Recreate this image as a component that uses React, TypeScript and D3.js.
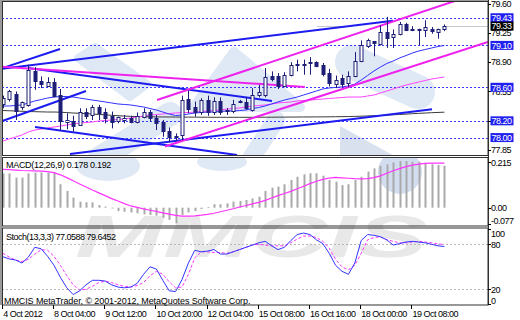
import React from 'react';
import * as d3 from 'd3';

// ---------- DATA ----------
const tickBars = [0, 8, 16, 24, 32, 40, 48, 56, 64];
const tickLabels = ['4 Oct 2012', '8 Oct 04:00', '9 Oct 12:00', '10 Oct 20:00', '12 Oct 04:00', '15 Oct 08:00', '16 Oct 16:00', '18 Oct 00:00', '19 Oct 08:00'];

const open = [78.40, 78.46, 78.52, 78.37, 78.39, 78.79, 78.68, 78.62, 78.66, 78.51,
  78.18, 78.20, 78.15, 78.30, 78.27, 78.37, 78.30, 78.26, 78.20, 78.21,
  78.23, 78.19, 78.25, 78.30, 78.23, 78.18, 78.08, 78.02, 78.03, 78.46,
  78.36, 78.31, 78.45, 78.30, 78.44, 78.32, 78.32, 78.44, 78.43, 78.33,
  78.51, 78.51, 78.73, 78.73, 78.61, 78.75, 78.88, 78.87, 78.89, 78.90,
  78.87, 78.77, 78.64, 78.71, 78.65, 78.73, 78.91, 79.09, 79.15, 79.12,
  79.26, 79.20, 79.24, 79.36, 79.28, 79.30, 79.28, 79.30, 79.26, 79.30];
const high = [78.50, 78.57, 78.55, 78.43, 78.87, 78.84, 78.73, 78.72, 78.71, 78.58,
  78.29, 78.26, 78.35, 78.35, 78.39, 78.39, 78.35, 78.31, 78.25, 78.27,
  78.26, 78.30, 78.35, 78.33, 78.27, 78.21, 78.12, 78.05, 78.50, 78.56,
  78.43, 78.47, 78.50, 78.48, 78.48, 78.35, 78.45, 78.45, 78.48, 78.59,
  78.63, 78.83, 78.79, 78.77, 78.78, 78.90, 78.93, 78.93, 78.96, 78.91,
  78.89, 78.82, 78.74, 78.75, 78.79, 79.02, 79.16, 79.18, 79.15, 79.34,
  79.44, 79.29, 79.38, 79.37, 79.33, 79.30, 79.40, 79.32, 79.30, 79.35];
const low = [78.35, 78.43, 78.21, 78.33, 78.37, 78.57, 78.59, 78.61, 78.48, 78.08,
  78.10, 78.07, 78.14, 78.22, 78.21, 78.21, 78.17, 78.11, 78.17, 78.17,
  78.17, 78.17, 78.23, 78.19, 78.09, 78.01, 77.95, 77.96, 77.97, 78.29,
  78.25, 78.27, 78.26, 78.27, 78.27, 78.27, 78.29, 78.41, 78.33, 78.31,
  78.48, 78.48, 78.67, 78.58, 78.60, 78.73, 78.79, 78.75, 78.75, 78.84,
  78.73, 78.61, 78.59, 78.60, 78.60, 78.72, 78.90, 79.07, 78.97, 79.10,
  79.07, 79.07, 79.22, 79.27, 79.27, 79.10, 79.20, 79.24, 79.18, 79.27];
const close = [78.47, 78.55, 78.32, 78.42, 78.81, 78.68, 78.64, 78.66, 78.50, 78.20,
  78.21, 78.14, 78.31, 78.26, 78.37, 78.29, 78.23, 78.19, 78.24, 78.23,
  78.19, 78.26, 78.31, 78.23, 78.17, 78.08, 78.01, 78.01, 78.45, 78.34,
  78.31, 78.45, 78.30, 78.44, 78.30, 78.33, 78.40, 78.43, 78.35, 78.51,
  78.54, 78.72, 78.70, 78.61, 78.75, 78.87, 78.87, 78.88, 78.90, 78.86,
  78.76, 78.65, 78.69, 78.64, 78.73, 78.91, 79.10, 79.16, 79.13, 79.26,
  79.19, 79.24, 79.36, 79.28, 79.29, 79.28, 79.32, 79.27, 79.30, 79.33];

const maFast = [78.377, 78.377, 78.383, 78.389, 78.413, 78.437, 78.454, 78.472, 78.484, 78.490,
  78.490, 78.484, 78.472, 78.460, 78.448, 78.437, 78.425, 78.413, 78.401, 78.395,
  78.389, 78.377, 78.365, 78.347, 78.329, 78.305, 78.281, 78.263, 78.269, 78.281,
  78.293, 78.299, 78.305, 78.305, 78.311, 78.317, 78.317, 78.323, 78.329, 78.347,
  78.359, 78.377, 78.401, 78.425, 78.448, 78.466, 78.484, 78.508, 78.532, 78.556,
  78.580, 78.592, 78.598, 78.604, 78.616, 78.639, 78.687, 78.741, 78.795, 78.842,
  78.884, 78.914, 78.950, 78.979, 79.009, 79.033, 79.051, 79.069, 79.087, 79.099];
const maSlow = [77.959, 77.983, 78.007, 78.031, 78.067, 78.090, 78.102, 78.114, 78.126, 78.138,
  78.150, 78.162, 78.174, 78.180, 78.186, 78.198, 78.204, 78.210, 78.216, 78.222,
  78.234, 78.246, 78.258, 78.269, 78.275, 78.281, 78.287, 78.293, 78.299, 78.299,
  78.305, 78.311, 78.317, 78.323, 78.329, 78.341, 78.347, 78.353, 78.365, 78.377,
  78.383, 78.389, 78.401, 78.413, 78.419, 78.425, 78.437, 78.443, 78.448, 78.454,
  78.460, 78.466, 78.472, 78.478, 78.484, 78.484, 78.484, 78.496, 78.508, 78.532,
  78.556, 78.580, 78.604, 78.627, 78.645, 78.663, 78.681, 78.699, 78.711, 78.723];
const maLong = [78.323, 78.320, 78.317, 78.314, 78.311, 78.309, 78.307, 78.305, 78.305, 78.303,
  78.298, 78.293, 78.290, 78.286, 78.281, 78.276, 78.271, 78.266, 78.261, 78.257,
  78.253, 78.251, 78.249, 78.248, 78.247, 78.246, 78.246, 78.245, 78.245, 78.244,
  78.244, 78.243, 78.243, 78.242, 78.242, 78.242, 78.242, 78.242, 78.242, 78.242,
  78.243, 78.243, 78.243, 78.244, 78.244, 78.245, 78.245, 78.246, 78.246, 78.247,
  78.247, 78.248, 78.249, 78.250, 78.251, 78.253, 78.255, 78.258, 78.261, 78.264,
  78.268, 78.272, 78.276, 78.280, 78.285, 78.289, 78.293, 78.297, 78.300, 78.303];

const macdHist = [0.160, 0.160, 0.140, 0.140, 0.160, 0.164, 0.164, 0.164, 0.164, 0.109,
  0.078, 0.047, 0.028, 0.025, 0.025, 0.012, 0.005, -0.003, -0.016, -0.019,
  -0.022, -0.026, -0.031, -0.034, -0.037, -0.047, -0.057, -0.073, -0.034, -0.022,
  -0.016, -0.006, 0.002, 0.016, 0.016, 0.020, 0.028, 0.031, 0.036, 0.043,
  0.051, 0.078, 0.093, 0.098, 0.109, 0.129, 0.144, 0.155, 0.160, 0.160,
  0.149, 0.129, 0.121, 0.105, 0.109, 0.129, 0.144, 0.168, 0.183, 0.195,
  0.202, 0.211, 0.217, 0.217, 0.214, 0.214, 0.206, 0.202, 0.199, 0.195];
const macdSignal = [0.178, 0.177, 0.175, 0.173, 0.172, 0.171, 0.170, 0.168, 0.163, 0.153,
  0.140, 0.125, 0.110, 0.096, 0.082, 0.069, 0.056, 0.042, 0.031, 0.019,
  0.008, 0.001, -0.006, -0.012, -0.017, -0.024, -0.030, -0.036, -0.039, -0.039,
  -0.038, -0.035, -0.031, -0.026, -0.019, -0.012, -0.005, 0.003, 0.010, 0.018,
  0.025, 0.034, 0.045, 0.056, 0.066, 0.076, 0.088, 0.100, 0.112, 0.123,
  0.132, 0.138, 0.141, 0.139, 0.137, 0.135, 0.134, 0.135, 0.140, 0.148,
  0.160, 0.172, 0.182, 0.191, 0.198, 0.203, 0.206, 0.207, 0.207, 0.207];

const stochMain = [63.5, 60.5, 59, 55, 63, 76, 74, 64, 52, 36,
  22, 13, 18, 26, 32, 32, 31, 26, 23, 22,
  23, 28, 40, 50, 47, 32, 18, 17, 33, 55,
  72, 70, 71, 73, 67, 67, 70, 73, 76, 79,
  82, 84, 78, 73, 76, 85, 93, 95, 93, 86,
  81, 68, 52, 44, 40, 55, 85, 93, 92, 90,
  86, 79, 81, 83, 84, 83, 82, 80, 78, 77.06];
const stochSignal = [68, 63, 59, 57, 60, 67, 73, 72, 64, 52,
  38, 26, 19, 20, 24, 29, 31, 29, 26, 24,
  23, 25, 29, 38, 44, 40, 30, 22, 23, 40,
  62, 70, 70, 69, 69, 68, 70, 73, 76, 79,
  80, 79, 78, 78, 78, 82, 87, 91, 91, 89,
  84, 75, 60, 50, 46, 52, 68, 86, 89, 90,
  86, 84, 82, 82, 83, 84, 83, 82, 80.5, 79.65];

const levelPrices = [79.43, 79.10, 78.60, 78.20, 78.00];
const bidPrice = 79.33;
const bidSegments = [[49.1, 54.2], [68.8, 76]];
const priceTicks = [79.60, 79.25, 78.90, 78.55, 78.20, 77.85];
const macdTicks = [0.215, 0, -0.077];
const macdTickLabels = ['0.215', '0.00', '-0.077'];
const stochTicks = [100, 80, 20, 0];
const stochLevels = [80, 20];

// trend lines as [bar1, price1, bar2, price2]
const blueTrend = [
  [-0.5, 78.818, 60.97, 79.395],
  [-0.5, 78.818, 8.94, 79.057],
  [-0.5, 78.186, 13.0, 78.556],
  [3.94, 78.830, 42.06, 78.437],
  [5.03, 78.126, 36.6, 77.792],
  [10.5, 77.804, 67.06, 78.337],
];
const magentaTrend = [
  [-0.5, 78.848, 47.2, 78.604],
  [24.1, 78.448, 73, 79.69],
  [25.34, 77.894, 75.8, 79.141],
];

// ---------- CHART ----------
const FONT = 'Liberation Sans, Arial, sans-serif';
const NAVY = '#1e1e78';

export default function App() {
  const n = close.length;
  const left = 2, right = 488;
  const main = { top: 1.5, bottom: 155.5 };
  const macdP = { top: 157.5, bottom: 226 };
  const stochP = { top: 228, bottom: 305 };

  const x = d3.scaleLinear().domain([0, n - 1]).range([2.8, 2.8 + (n - 1) * 6.4]);
  const yP = d3.scaleLinear().domain([77.85, 79.6]).range([150.15, 3.5]);
  const yM = d3.scaleLinear().domain([-0.077, 0.215]).range([224.2, 161.5]);
  const yS = d3.scaleLinear().domain([0, 100]).range([304.3, 229.3]);
  const idx = d3.range(n);
  const mk = (arr: number[], y: (v: number) => number) =>
    d3.line<number>().x(i => x(i)).y(i => y(arr[i])).curve(d3.curveLinear)(idx) || '';
  const crisp = (v: number) => Math.round(v) + 0.5;
  const fmt2 = d3.format('.2f');
  const clamp = (v: number, a: number, b: number) => Math.max(a, Math.min(b, v));
  // plain price tick labels that sit exactly under a level box are hidden by it
  const visibleTicks = priceTicks.filter(v => !levelPrices.some(l => Math.abs(l - v) < 0.005));

  return (
    <svg width={520} height={320} viewBox="0 0 520 320"
      style={{ position: 'absolute', left: 0, top: 0, background: '#fff', fontFamily: FONT }}>
      <style>{'body{margin:0}'}</style>
      <defs>
        <clipPath id="cMain"><rect x={left} y={main.top} width={right - left} height={main.bottom - main.top} /></clipPath>
        <clipPath id="cMacd"><rect x={left} y={macdP.top} width={right - left} height={macdP.bottom - macdP.top} /></clipPath>
        <clipPath id="cStoch"><rect x={left} y={stochP.top} width={right - left} height={stochP.bottom - stochP.top} /></clipPath>
      </defs>
      <rect x={0} y={0} width={520} height={320} fill="#fff" />

      {/* watermark */}
      <g clipPath="url(#cMain)" fill="#dfe8f5" stroke="#dfe8f5" strokeLinejoin="round">
        <path d="M78,58 L95,47 L147,84 L130,97 Z" strokeWidth={8} />
        <path d="M194,107 L234,52 L300,107 Z" strokeWidth={10} />
        <line x1={352} y1={62} x2={418} y2={92} strokeWidth={34} strokeLinecap="round" />
        <line x1={100} y1={158} x2={170} y2={114} strokeWidth={24} strokeLinecap="round" />
        <line x1={250} y1={160} x2={276} y2={120} strokeWidth={18} strokeLinecap="round" />
        <path d="M340,126 L398,158 L340,158 Z" fill="#d9e0ee" stroke="none" />
      </g>
      <g clipPath="url(#cMacd)">
        <ellipse cx={108} cy={166} rx={32} ry={15} fill="#dfe8f5" />
        <ellipse cx={222} cy={162} rx={25} ry={9} fill="#dfe8f5" />
        <circle cx={400} cy={172} r={22} fill="#d3ddf0" />
      </g>
      <text x={75} y={257} fontSize={60} fontWeight="bold" fontStyle="italic" fill="#e8e8e8"
        textLength={352} lengthAdjust="spacingAndGlyphs" fontFamily={FONT}>MMCIS</text>

      {/* main panel */}
      <g clipPath="url(#cMain)">
        {levelPrices.map((p, k) => (
          <line key={'lv' + k} x1={left} x2={right} y1={crisp(yP(p))} y2={crisp(yP(p))}
            stroke="#3a3aff" strokeWidth={1} strokeDasharray="2,2" />
        ))}
        {bidSegments.map((s, k) => (
          <line key={'bid' + k} x1={x(s[0])} x2={x(s[1])} y1={crisp(yP(bidPrice))} y2={crisp(yP(bidPrice))}
            stroke="#c8c8c8" strokeWidth={1} />
        ))}
        <path d={mk(maLong, yP)} fill="none" stroke="#3a3a3a" strokeWidth={1} />
        <path d={mk(maSlow, yP)} fill="none" stroke="#ff44ff" strokeWidth={1} />
        <path d={mk(maFast, yP)} fill="none" stroke="#3030ff" strokeWidth={1} />
        {blueTrend.map((t, k) => (
          <line key={'bt' + k} x1={x(t[0])} y1={yP(t[1])} x2={x(t[2])} y2={yP(t[3])}
            stroke="#1c1cf0" strokeWidth={2} />
        ))}
        {magentaTrend.map((t, k) => (
          <line key={'mt' + k} x1={x(t[0])} y1={yP(t[1])} x2={x(t[2])} y2={yP(t[3])}
            stroke="#ee22ee" strokeWidth={2} />
        ))}
        {idx.map(i => {
          const cx = Math.round(x(i));
          const bull = close[i] >= open[i];
          const yTop = Math.round(yP(Math.max(open[i], close[i])));
          const yBot = Math.round(yP(Math.min(open[i], close[i])));
          const hgt = Math.max(1, yBot - yTop);
          return (
            <g key={'c' + i}>
              <line x1={cx + 0.5} x2={cx + 0.5} y1={yP(high[i])} y2={yP(low[i])} stroke={NAVY} strokeWidth={1} />
              {bull ? (
                <rect x={cx - 1} y={yTop + 0.5} width={3} height={hgt} fill="#fff" stroke={NAVY} strokeWidth={1} />
              ) : (
                <rect x={cx - 1.5} y={yTop} width={4} height={hgt + 1} fill={NAVY} />
              )}
            </g>
          );
        })}
      </g>

      {/* MACD panel */}
      <g clipPath="url(#cMacd)">
        {idx.map(i => {
          const y0 = yM(0), y1 = yM(macdHist[i]);
          return <rect key={'h' + i} x={Math.round(x(i)) - 0.5} width={2} y={Math.min(y0, y1)}
            height={Math.max(0.8, Math.abs(y1 - y0))} fill="#a9a9a9" />;
        })}
        <path d={mk(macdSignal, yM)} fill="none" stroke="#ff33ff" strokeWidth={1.2} />
      </g>
      <text x={6} y={168} fontSize={9} letterSpacing={-0.3} fill="#000">MACD(12,26,9) 0.178 0.192</text>

      {/* Stoch panel */}
      <g clipPath="url(#cStoch)">
        {stochLevels.map((v, k) => (
          <line key={'sl' + k} x1={left} x2={right} y1={crisp(yS(v))} y2={crisp(yS(v))}
            stroke="#b8b8b8" strokeWidth={1} strokeDasharray="2,2" />
        ))}
        <path d={mk(stochSignal, yS)} fill="none" stroke="#ff33ff" strokeWidth={1} strokeDasharray="3,2" />
        <path d={mk(stochMain, yS)} fill="none" stroke="#3434ff" strokeWidth={1} />
      </g>
      <text x={6} y={240} fontSize={9} letterSpacing={-0.5} fill="#000">Stoch(13,3,3) 77.0588 79.6452</text>
      <text x={4} y={304} fontSize={9} letterSpacing={-0.1} fill="#000">MMCIS MetaTrader, © 2001-2012, MetaQuotes Software Corp.</text>

      {/* frames */}
      <line x1={0} x2={right} y1={1} y2={1} stroke="#9a9a9a" strokeWidth={2} />
      <line x1={1} x2={1} y1={0} y2={stochP.bottom} stroke="#9a9a9a" strokeWidth={2} />
      {[main, macdP, stochP].map((p, k) => (
        <rect key={'f' + k} x={left + 0.5} y={p.top} width={right - left - 0.5} height={p.bottom - p.top}
          fill="none" stroke="#303030" strokeWidth={1} />
      ))}
      <line x1={right + 0.5} x2={right + 0.5} y1={0} y2={stochP.bottom} stroke="#303030" strokeWidth={1} />

      {/* price axis */}
      <g fontSize={9} fill="#000">
        {priceTicks.map((v, k) => (
          <line key={'ptl' + k} x1={right} x2={right + 3} y1={crisp(yP(v))} y2={crisp(yP(v))} stroke="#000" />
        ))}
        {visibleTicks.map((v, k) => {
          const yy = clamp(yP(v), 4, 152);
          return <text key={'pt' + k} x={491} y={yy + 3.2} letterSpacing={-0.5}>{fmt2(v)}</text>;
        })}
        {levelPrices.map((v, k) => {
          const yy = yP(v);
          return (
            <g key={'lb' + k}>
              <rect x={490.5} y={yy - 4.5} width={23} height={9} fill="#2020f0" />
              <text x={491.5} y={yy + 3.2} fill="#fff" letterSpacing={-0.5}>{fmt2(v)}</text>
            </g>
          );
        })}
        <rect x={490.5} y={yP(bidPrice) - 4.5} width={23} height={9} fill="#000" />
        <text x={491.5} y={yP(bidPrice) + 3.2} fill="#fff" letterSpacing={-0.5}>{fmt2(bidPrice)}</text>

        {macdTicks.map((v, k) => {
          const yy = clamp(yM(v), 163, 221);
          return (
            <g key={'mt' + k}>
              <line x1={right} x2={right + 3} y1={crisp(yM(v))} y2={crisp(yM(v))} stroke="#000" />
              <text x={491} y={yy + 3.2} letterSpacing={-0.5}>{macdTickLabels[k]}</text>
            </g>
          );
        })}
        {stochTicks.map((v, k) => {
          const yy = clamp(yS(v), 234, 300.7);
          return (
            <g key={'st' + k}>
              <line x1={right} x2={right + 3} y1={crisp(yS(v))} y2={crisp(yS(v))} stroke="#000" />
              <text x={491} y={yy + 3.2} letterSpacing={-0.5}>{String(v)}</text>
            </g>
          );
        })}
      </g>

      {/* time axis */}
      <g fontSize={9} fill="#000">
        {tickBars.map((b, k) => (
          <g key={'xt' + k}>
            <line x1={crisp(x(b)) - 1} x2={crisp(x(b)) - 1} y1={stochP.bottom} y2={stochP.bottom + 4} stroke="#000" />
            <text x={x(b) + (k === 0 ? 0.5 : 0)} y={316.5} letterSpacing={-0.5}>{tickLabels[k]}</text>
          </g>
        ))}
      </g>
    </svg>
  );
}
